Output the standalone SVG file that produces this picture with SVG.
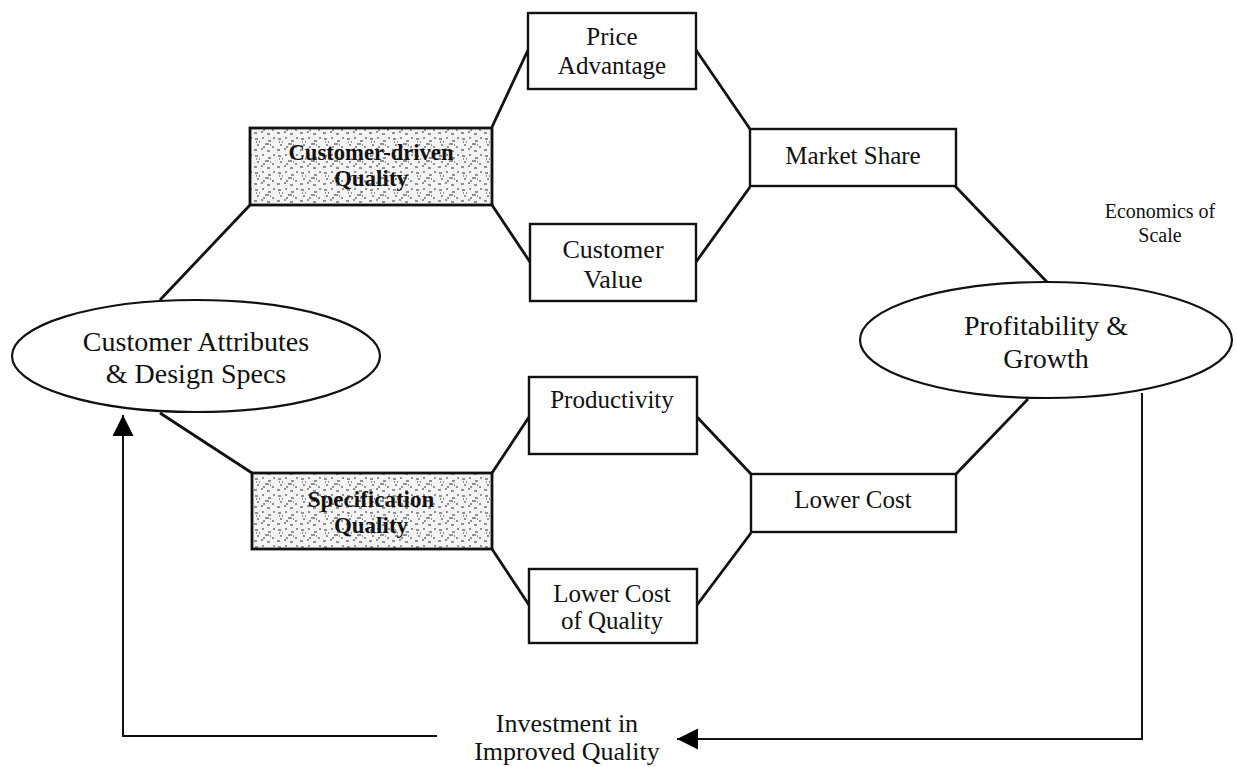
<svg xmlns="http://www.w3.org/2000/svg" width="1237" height="767" viewBox="0 0 1237 767">
<defs>
<pattern id="stip" width="23" height="17" patternUnits="userSpaceOnUse">
<rect width="23" height="17" fill="#f4f4f4"/>
<path d="M2 3h3M9 2h2M15 5h3M4 9h2M12 8h4M19 11h2M1 14h3M8 13h2M14 15h3M20 2h2M6 6h1M17 9h1M10 11h2M3 6h1" stroke="#707070" stroke-width="1.3"/>
</pattern>
<marker id="ah" viewBox="0 0 10 10" refX="10" refY="5" markerWidth="21" markerHeight="21" markerUnits="userSpaceOnUse" orient="auto">
<path d="M0 0L10 5L0 10z" fill="#000"/>
</marker>
</defs>
<style>
.box{fill:#fff;stroke:#111;stroke-width:2.4}
.shade{fill:url(#stip);stroke:#111;stroke-width:2.8}
.ell{fill:#fff;stroke:#111;stroke-width:2.2}
.ln{fill:none;stroke:#111;stroke-width:2.8}
.thin{fill:none;stroke:#111;stroke-width:2}
.t{font-family:"Liberation Serif","Times New Roman",serif;fill:#111;text-anchor:middle}
.b{font-weight:bold}
</style>
<rect width="1237" height="767" fill="#fff"/>
<g id="connectors">
<path class="ln" d="M528 50L492 127"/>
<path class="ln" d="M696 50L750 129"/>
<path class="ln" d="M530 262L492 205"/>
<path class="ln" d="M696 262L750 187"/>
<path class="ln" d="M529 417L492 473"/>
<path class="ln" d="M697 417L751 474"/>
<path class="ln" d="M529 605L492 549"/>
<path class="ln" d="M697 605L751 533"/>
<path class="ln" d="M250 205L160 300"/>
<path class="ln" d="M160 413L252 473"/>
<path class="ln" d="M955 186L1047 282"/>
<path class="ln" d="M1028 399L956 474"/>
<path class="thin" d="M437 736H123V415" marker-end="url(#ah)"/>
<path class="thin" d="M1142 393V739H677" marker-end="url(#ah)"/>
</g>
<g id="n-attr">
<ellipse class="ell" cx="196" cy="356" rx="184" ry="56"/>
<text class="t" x="196" y="351" font-size="28">Customer Attributes</text>
<text class="t" x="196" y="383" font-size="28">&amp; Design Specs</text>
</g>
<g id="n-cdq">
<rect class="shade" x="250" y="128" width="242" height="77"/>
<text class="t b" x="371" y="160" font-size="23" textLength="165" lengthAdjust="spacingAndGlyphs">Customer-driven</text>
<text class="t b" x="371" y="186" font-size="23">Quality</text>
</g>
<g id="n-spec">
<rect class="shade" x="252" y="473" width="240" height="76"/>
<text class="t b" x="371" y="507" font-size="23">Specification</text>
<text class="t b" x="371" y="533" font-size="23">Quality</text>
</g>
<g id="n-price">
<rect class="box" x="528" y="13" width="168" height="76"/>
<text class="t" x="612" y="45" font-size="25">Price</text>
<text class="t" x="612" y="74" font-size="25">Advantage</text>
</g>
<g id="n-cv">
<rect class="box" x="530" y="224" width="166" height="77"/>
<text class="t" x="613" y="258" font-size="26">Customer</text>
<text class="t" x="613" y="288" font-size="26">Value</text>
</g>
<g id="n-ms">
<rect class="box" x="750" y="129" width="206" height="57"/>
<text class="t" x="853" y="164" font-size="25">Market Share</text>
</g>
<g id="n-prod">
<rect class="box" x="529" y="377" width="168" height="77"/>
<text class="t" x="612" y="408" font-size="25">Productivity</text>
</g>
<g id="n-lc">
<rect class="box" x="751" y="474" width="205" height="58"/>
<text class="t" x="853" y="508" font-size="25">Lower Cost</text>
</g>
<g id="n-lcq">
<rect class="box" x="529" y="569" width="168" height="74"/>
<text class="t" x="612" y="602" font-size="25">Lower Cost</text>
<text class="t" x="612" y="629" font-size="25">of Quality</text>
</g>
<g id="n-profit">
<ellipse class="ell" cx="1046" cy="340" rx="186" ry="58"/>
<text class="t" x="1046" y="335" font-size="28">Profitability &amp;</text>
<text class="t" x="1046" y="368" font-size="28">Growth</text>
</g>
<g id="n-econ">
<text class="t" x="1160" y="218" font-size="20">Economics of</text>
<text class="t" x="1160" y="242" font-size="20">Scale</text>
</g>
<g id="n-invest">
<text class="t" x="567" y="732" font-size="26">Investment in</text>
<text class="t" x="567" y="760" font-size="26">Improved Quality</text>
</g>
</svg>
